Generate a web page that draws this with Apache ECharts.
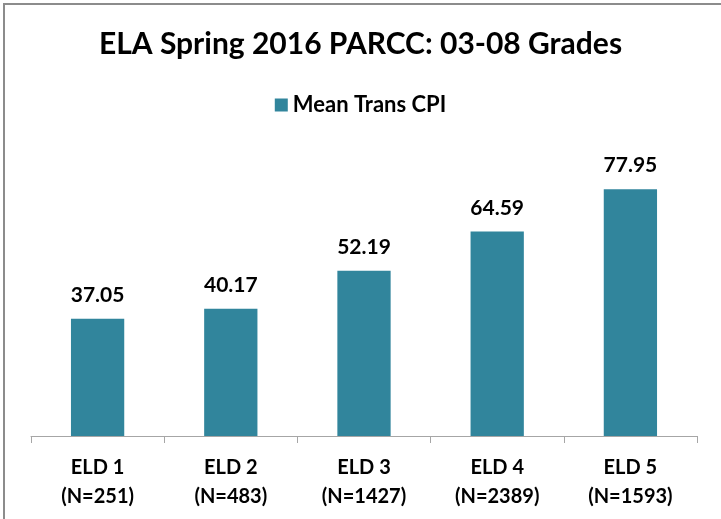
<!DOCTYPE html>
<html lang="en">
<head>
<meta charset="UTF-8">
<title>ELA Spring 2016 PARCC</title>
<script src="https://cdn.jsdelivr.net/npm/echarts@6/dist/echarts.min.js"></script>
<style>
html, body { margin: 0; padding: 0; background: #fff; }
#frame {
  position: absolute; left: 3px; top: 3px; width: 718px; height: 516px;
  border-top: 2px solid #8c8c8c; border-left: 2px solid #8c8c8c;
  box-sizing: border-box;
}
#chart { position: absolute; left: 0; top: 0; width: 721px; height: 519px; }
</style>
</head>
<body>
<div id="frame"></div>
<div id="chart"></div>
<script>
const categories = ['ELD 1\n(N=251)', 'ELD 2\n(N=483)', 'ELD 3\n(N=1427)', 'ELD 4\n(N=2389)', 'ELD 5\n(N=1593)'];
const meanTransCPI = [37.05, 40.17, 52.19, 64.59, 77.95];
const seriesName = 'Mean Trans CPI';
const fontFamily = 'Lato, "Open Sans", sans-serif';

const chart = echarts.init(document.getElementById('chart'));
chart.setOption({
  animation: false,
  title: {
    text: 'ELA Spring 2016 PARCC: 03-08 Grades',
    left: 'center',
    top: 24,
    textStyle: { fontFamily: fontFamily, fontSize: 30, fontWeight: 'bold', color: '#000' }
  },
  legend: {
    data: [seriesName],
    top: 89,
    left: 'center',
    icon: 'rect',
    itemWidth: 13,
    itemHeight: 13,
    itemGap: 5,
    textStyle: { fontFamily: fontFamily, fontSize: 22, fontWeight: 'bold', color: '#000' }
  },
  grid: { left: 31, right: 24, top: 151, bottom: 83 },
  xAxis: {
    type: 'category',
    data: categories,
    axisLine: { lineStyle: { color: '#a6a6a6', width: 1 } },
    axisTick: { show: true, length: 7, alignWithLabel: false, lineStyle: { color: '#a6a6a6' } },
    axisLabel: {
      margin: 17,
      lineHeight: 29,
      fontFamily: fontFamily, fontSize: 20, fontWeight: 'bold', color: '#000'
    }
  },
  yAxis: {
    type: 'value',
    min: 0,
    max: 90,
    show: false
  },
  series: [{
    name: seriesName,
    type: 'bar',
    data: meanTransCPI,
    barWidth: '40%',
    itemStyle: { color: '#31859C' },
    label: {
      show: true,
      position: 'top',
      distance: 13,
      formatter: p => p.value.toFixed(2),
      fontFamily: fontFamily, fontSize: 21, fontWeight: 'bold', color: '#000'
    }
  }]
});
</script>
</body>
</html>
